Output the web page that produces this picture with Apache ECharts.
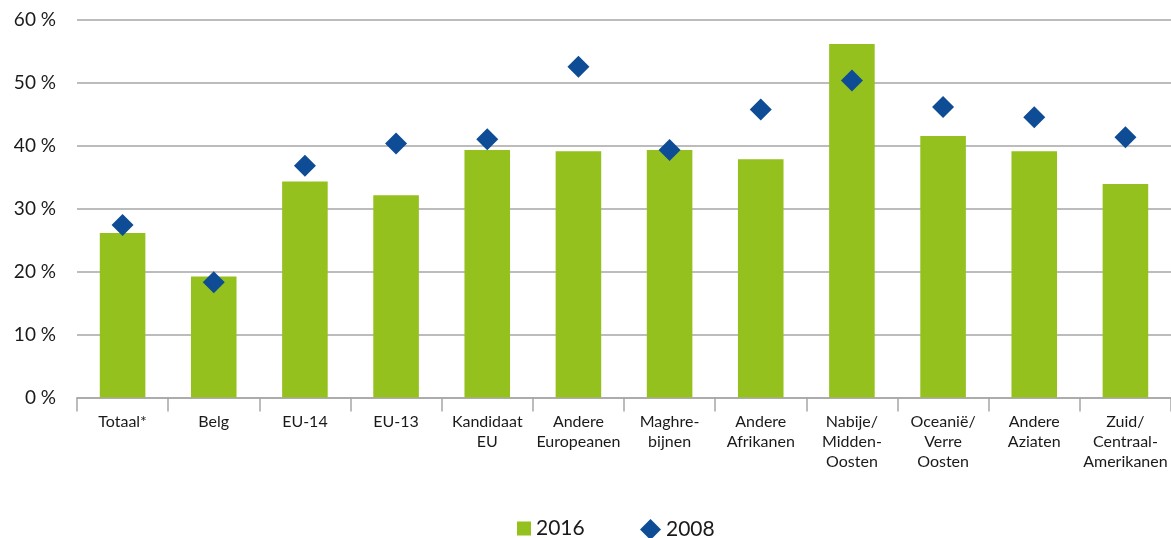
<!DOCTYPE html>
<html>
<head>
<meta charset="utf-8">
<script src="https://cdn.jsdelivr.net/npm/echarts@6/dist/echarts.min.js"></script>
<style>
  html, body { margin: 0; padding: 0; background: #fff; }
  #chart { width: 1171px; height: 538px; }
</style>
</head>
<body>
<div id="chart"></div>
<script>
// categorieen (x-as)
var categories = ['Totaal*', 'Belg', 'EU-14', 'EU-13', 'Kandidaat\nEU', 'Andere\nEuropeanen',
  'Maghre-\nbijnen', 'Andere\nAfrikanen', 'Nabije/\nMidden-\nOosten', 'Oceanië/\nVerre\nOosten',
  'Andere\nAziaten', 'Zuid/\nCentraal-\nAmerikanen']
var data2016 = [26.1, 19.2, 34.3, 32.1, 39.3, 39.1, 39.3, 37.8, 56.1, 41.5, 39.1, 33.9]
var data2008 = [27.4, 18.3, 36.8, 40.3, 41.0, 52.5, 39.3, 45.7, 50.3, 46.1, 44.5, 41.3]
var yTicks = [0, 10, 20, 30, 40, 50, 60]

var font = 'Lato'
var chart = echarts.init(document.getElementById('chart'))

var option = {
  animation: false,
  textStyle: { fontFamily: font },
  grid: {
    left: 77,
    right: -2,
    top: 19.5,
    bottom: 140.5
  },
  legend: [{
    data: ['2016'],
    left: 512,
    top: 513,
    itemWidth: 14,
    itemHeight: 14,
    icon: 'rect',
    textStyle: { fontSize: 21, color: '#1a1a1a', fontFamily: font }
  }, {
    data: ['2008'],
    left: 635,
    top: 514,
    itemWidth: 21,
    itemHeight: 21,
    icon: 'diamond',
    textStyle: { fontSize: 21, color: '#1a1a1a', fontFamily: font }
  }],
  xAxis: {
    type: 'category',
    data: categories,
    boundaryGap: true,
    axisLine: { show: true, lineStyle: { color: '#a6a6a6', width: 1.5 } },
    axisTick: { show: true, length: 14, alignWithLabel: false, lineStyle: { color: '#a6a6a6', width: 1.5 } },
    axisLabel: {
      interval: 0,
      margin: 14,
      fontSize: 16,
      lineHeight: 20,
      color: '#1a1a1a',
      fontFamily: font
    }
  },
  yAxis: {
    type: 'value',
    min: yTicks[0],
    max: yTicks[yTicks.length - 1],
    interval: 10,
    axisLine: { show: false },
    axisTick: { show: false },
    splitLine: { lineStyle: { color: '#a6a6a6', width: 1.5 } },
    axisLabel: {
      margin: 21,
      fontSize: 19,
      color: '#1a1a1a',
      fontFamily: font,
      formatter: function (v) { return v + ' %' }
    }
  },
  series: [{
    name: '2016',
    type: 'bar',
    barWidth: '50%',
    data: data2016,
    itemStyle: { color: '#95c11f' },
    z: 2
  }, {
    name: '2008',
    type: 'scatter',
    symbol: 'diamond',
    symbolSize: 22,
    data: data2008,
    itemStyle: { color: '#0e4c96', opacity: 1 },
    z: 3
  }]
}

chart.setOption(option)
</script>
</body>
</html>
